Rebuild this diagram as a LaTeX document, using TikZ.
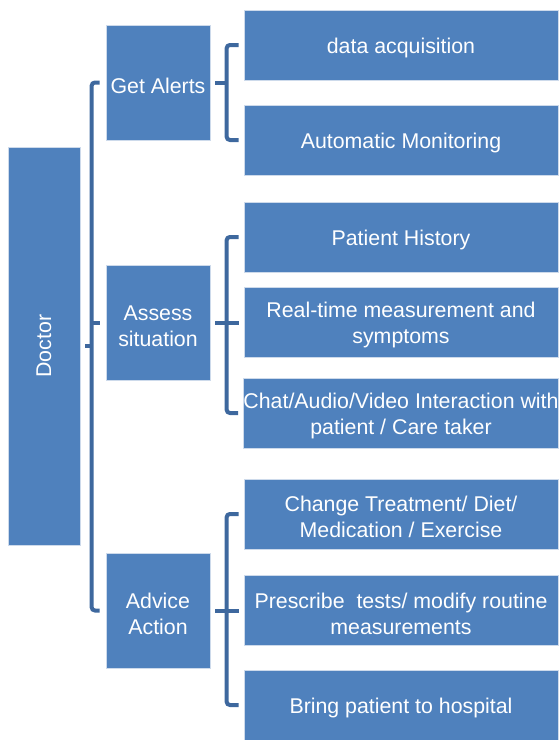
\documentclass[tikz,border=0pt]{standalone}
\usepackage{fontspec}
\setmainfont{Liberation Sans}
\usetikzlibrary{calc}

\definecolor{boxblue}{RGB}{79,129,189}
\definecolor{linkblue}{RGB}{62,104,158}
\definecolor{edgeblue}{RGB}{205,218,235}

\newcommand{\toprule}{\rule{0pt}{16pt}}

\begin{document}
\begin{tikzpicture}[
    x=0.75pt, y=-0.75pt,
    box/.style={fill=boxblue, draw=edgeblue, line width=0.6pt, align=center, text=white, inner sep=0pt, font=\fontsize{16}{19.5}\selectfont},
    topic/.style={box, minimum width=78pt, minimum height=86.25pt},
    leaf/.style={box, minimum width=235.5pt, minimum height=52.5pt},
    bracket/.style={draw=linkblue, line width=3pt, rounded corners=2.5pt},
]
\useasboundingbox (0,0) rectangle (558,740);

\node[box, minimum width=54pt, minimum height=298.5pt] (doctor) at (44,346) {\rotatebox{90}{Doctor}};

\node[topic] (alerts) at (158,82.5) {\toprule Get Alerts};
\node[topic] (assess) at (158,322.5) {\toprule Assess\\situation};
\node[topic] (advice) at (158,610.5) {\toprule Advice\\Action};

\node[leaf] (acq) at (401,45) {\toprule data acquisition};
\node[leaf] (monitor) at (401,140) {\toprule Automatic Monitoring};
\node[leaf] (history) at (401,237) {\toprule Patient History};
\node[leaf] (realtime) at (401,322.5) {\toprule Real-time measurement and\\symptoms};
\node[leaf] (chat) at (401,413) {\toprule Chat/Audio/Video Interaction with\\patient / Care taker};
\node[leaf] (treat) at (401,514) {\toprule Change Treatment/ Diet/\\Medication / Exercise};
\node[leaf] (tests) at (401,610.5) {\toprule Prescribe\ \ tests/ modify routine\\measurements};
\node[leaf] (hospital) at (401,705) {\toprule Bring patient to hospital};

% doctor -> topics
\draw[bracket] ($(doctor.east)+(5,0)$) -- ++(7,0);
\draw[bracket] ($(alerts.west)+(-6,0)$) -- ++(-8,0) |- ($(advice.west)+(-6,0)$);
\draw[bracket] ($(assess.west)+(-6,0)$) -- ++(-8,0);

% topics -> leaves
\draw[bracket] ($(acq.west)+(-5,0)$) -- ++(-12,0) |- ($(monitor.west)+(-5,0)$);
\draw[bracket] ($(alerts.east)+(5,0)$) -- ++(12,0);

\draw[bracket] ($(history.west)+(-5,0)$) -- ++(-12,0) |- ($(chat.west)+(-5,0)$);
\draw[bracket] ($(assess.east)+(5,0)$) -- ($(realtime.west)+(-5,0)$);

\draw[bracket] ($(treat.west)+(-5,0)$) -- ++(-12,0) |- ($(hospital.west)+(-5,0)$);
\draw[bracket] ($(advice.east)+(5,0)$) -- ($(tests.west)+(-5,0)$);
\end{tikzpicture}
\end{document}
